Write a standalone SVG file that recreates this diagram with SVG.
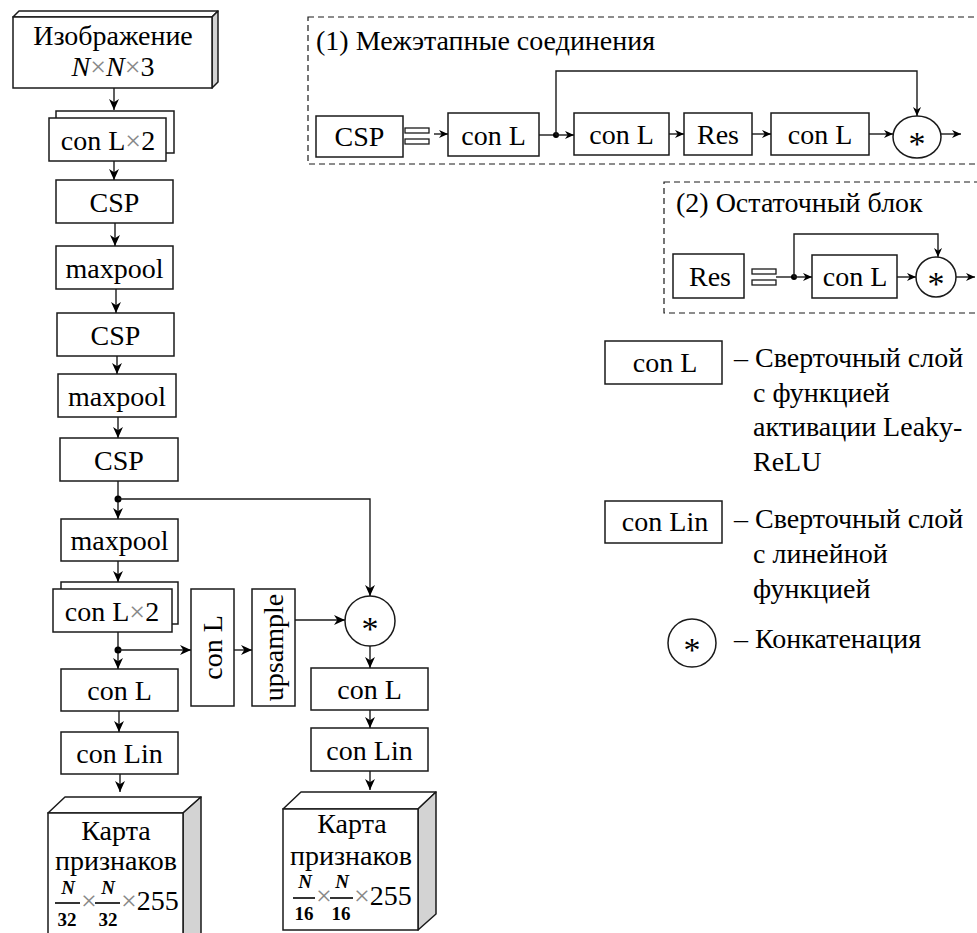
<svg xmlns="http://www.w3.org/2000/svg" width="977" height="933" viewBox="0 0 977 933">
  <style>
    .box { fill: #fff; stroke: #1a1a1a; stroke-width: 1.5; }
    .side { fill: #d3d3d3; stroke: #1a1a1a; stroke-width: 1.5; stroke-linejoin: round; }
    .top { fill: #fff; stroke: #1a1a1a; stroke-width: 1.5; stroke-linejoin: round; }
    .panel { fill: none; stroke: #1a1a1a; stroke-width: 1.2; stroke-dasharray: 6 4; }
    .bar { fill: #fff; stroke: #1a1a1a; stroke-width: 1.3; }
    .t { font-family: "Liberation Serif", serif; font-size: 28px; fill: #000; }
    .c { text-anchor: middle; }
    .ast { font-family: "Liberation Serif", serif; font-size: 34px; text-anchor: middle; fill: #000; }
    .frac { font-family: "Liberation Serif", serif; font-size: 19px; font-weight: bold; text-anchor: middle; fill: #000; }
    .x { fill: #888; }
    .ln { fill: none; stroke: #1a1a1a; stroke-width: 1.4; }
    .arr { marker-end: url(#ah); }
    .arrs { marker-end: url(#ahs); }
    .dot { fill: #000; }
  </style>
  <defs>
    <marker id="ah" viewBox="0 0 10 10" refX="10" refY="5" markerWidth="11" markerHeight="11" markerUnits="userSpaceOnUse" orient="auto">
      <path d="M0,0.5 L10,5 L0,9.5 L3,5 Z" fill="#000"/>
    </marker>
    <marker id="ahs" viewBox="0 0 10 10" refX="10" refY="5" markerWidth="9" markerHeight="9" markerUnits="userSpaceOnUse" orient="auto">
      <path d="M0,0.5 L10,5 L0,9.5 L3,5 Z" fill="#000"/>
    </marker>
  </defs>

  <rect width="977" height="933" fill="#fff"/>

  <!-- ===== main network ===== -->
  <g id="input">
    <polygon class="top" points="13,17 19,11 218,11 212,17"/>
    <polygon class="side" points="212,17 218,11 218,82 212,88"/>
    <rect class="box" x="13" y="17" width="199" height="71"/>
    <text class="t c" x="113" y="45">Изображение</text>
    <text class="t c" x="113" y="76"><tspan font-style="italic">N</tspan><tspan class="x">×</tspan><tspan font-style="italic">N</tspan><tspan class="x">×</tspan>3</text>
  </g>

  <g id="conv-x2-a">
    <rect class="box" x="56" y="111" width="118" height="42"/>
    <rect class="box" x="49" y="118" width="117" height="43"/>
    <text class="t c" x="108" y="150">con L<tspan class="x">×</tspan>2</text>
  </g>

  <g id="csp-1">
    <rect class="box" x="56" y="180" width="117" height="43"/>
    <text class="t c" x="114.5" y="212">CSP</text>
  </g>

  <g id="maxpool-1">
    <rect class="box" x="56" y="246" width="117" height="43"/>
    <text class="t c" x="114.5" y="278">maxpool</text>
  </g>

  <g id="csp-2">
    <rect class="box" x="57" y="313" width="117" height="43"/>
    <text class="t c" x="115.5" y="345">CSP</text>
  </g>

  <g id="maxpool-2">
    <rect class="box" x="58" y="374" width="118" height="43"/>
    <text class="t c" x="117" y="406">maxpool</text>
  </g>

  <g id="csp-3">
    <rect class="box" x="60" y="438" width="118" height="43"/>
    <text class="t c" x="119" y="470">CSP</text>
  </g>

  <g id="maxpool-3">
    <rect class="box" x="61" y="519" width="117" height="42"/>
    <text class="t c" x="119.5" y="550">maxpool</text>
  </g>

  <g id="conv-x2-b">
    <rect class="box" x="61" y="582" width="117" height="42"/>
    <rect class="box" x="53" y="589" width="119" height="43"/>
    <text class="t c" x="112" y="621">con L<tspan class="x">×</tspan>2</text>
  </g>

  <g id="conv-branch">
    <rect class="box" x="191" y="589" width="43" height="117"/>
    <text class="t c" transform="translate(222,647.5) rotate(-90)">con L</text>
  </g>

  <g id="upsample">
    <rect class="box" x="252" y="589" width="43" height="117"/>
    <text class="t c" transform="translate(283,647.5) rotate(-90)">upsample</text>
  </g>

  <g id="concat-main">
    <circle class="box" cx="370" cy="621" r="25"/>
    <text class="ast" x="370" y="640">*</text>
  </g>

  <g id="conv-l-left">
    <rect class="box" x="61" y="669" width="117" height="42"/>
    <text class="t c" x="119.5" y="700">con L</text>
  </g>

  <g id="conv-lin-left">
    <rect class="box" x="61" y="732" width="117" height="42"/>
    <text class="t c" x="119.5" y="763">con Lin</text>
  </g>

  <g id="conv-l-right">
    <rect class="box" x="311" y="668" width="117" height="42"/>
    <text class="t c" x="369.5" y="699">con L</text>
  </g>

  <g id="conv-lin-right">
    <rect class="box" x="311" y="728" width="117" height="43"/>
    <text class="t c" x="369.5" y="760">con Lin</text>
  </g>

  <g id="features-32">
    <polygon class="top" points="48,813 65,797 201,797 183,813"/>
    <polygon class="side" points="183,813 201,797 201,935 183,950"/>
    <rect class="box" x="48" y="813" width="135" height="140"/>
    <text class="t c" x="116" y="840">Карта</text>
    <text class="t c" x="116" y="870">признаков</text>
    <text class="frac" x="68" y="894" font-style="italic">N</text>
    <line x1="55" y1="903" x2="80" y2="903" stroke="#000" stroke-width="1.6"/>
    <text class="frac" x="67" y="926">32</text>
    <text class="t x" x="81" y="910">×</text>
    <text class="frac" x="108" y="894" font-style="italic">N</text>
    <line x1="95" y1="903" x2="120" y2="903" stroke="#000" stroke-width="1.6"/>
    <text class="frac" x="108" y="926">32</text>
    <text class="t" x="121" y="910"><tspan class="x">×</tspan>255</text>
  </g>

  <g id="features-16">
    <polygon class="top" points="283,809 301,792 436,792 418,809"/>
    <polygon class="side" points="418,809 436,792 436,914 418,930"/>
    <rect class="box" x="283" y="809" width="135" height="121"/>
    <text class="t c" x="352" y="833">Карта</text>
    <text class="t c" x="351" y="865">признаков</text>
    <text class="frac" x="305" y="888" font-style="italic">N</text>
    <line x1="293" y1="898" x2="315" y2="898" stroke="#000" stroke-width="1.6"/>
    <text class="frac" x="304" y="920">16</text>
    <text class="t x" x="316" y="905">×</text>
    <text class="frac" x="342" y="888" font-style="italic">N</text>
    <line x1="330" y1="898" x2="353" y2="898" stroke="#000" stroke-width="1.6"/>
    <text class="frac" x="341" y="920">16</text>
    <text class="t" x="354" y="905"><tspan class="x">×</tspan>255</text>
  </g>

  <!-- ===== panel (1): cross-stage connections ===== -->
  <g id="panel-csp">
    <rect class="panel" x="308" y="17" width="680" height="147"/>
    <text class="t" x="316" y="50">(1) Межэтапные соединения</text>
    <rect class="box" x="316" y="116" width="87" height="41"/>
    <text class="t c" x="359.5" y="146">CSP</text>
    <rect class="bar" x="405" y="128" width="24" height="5"/>
    <rect class="bar" x="405" y="139" width="24" height="5"/>
    <rect class="box" x="448" y="113" width="91" height="43"/>
    <text class="t c" x="493.5" y="145">con L</text>
    <rect class="box" x="574" y="113" width="95" height="42"/>
    <text class="t c" x="621.5" y="144">con L</text>
    <rect class="box" x="684" y="113" width="68" height="42"/>
    <text class="t c" x="718" y="144">Res</text>
    <rect class="box" x="771" y="113" width="98" height="42"/>
    <text class="t c" x="820" y="144">con L</text>
    <ellipse class="box" cx="917" cy="137" rx="24" ry="21"/>
    <text class="ast" x="917" y="155">*</text>
  </g>

  <!-- ===== panel (2): residual block ===== -->
  <g id="panel-res">
    <rect class="panel" x="664" y="182" width="330" height="131"/>
    <text class="t" x="676" y="212">(2) Остаточный блок</text>
    <rect class="box" x="673" y="254" width="71" height="44"/>
    <text class="t c" x="710" y="286">Res</text>
    <rect class="bar" x="752" y="269" width="24" height="5"/>
    <rect class="bar" x="752" y="280" width="24" height="5"/>
    <rect class="box" x="812" y="255" width="85" height="43"/>
    <text class="t c" x="855" y="286">con L</text>
    <circle class="box" cx="936" cy="277" r="20"/>
    <text class="ast" x="936" y="295">*</text>
  </g>

  <!-- ===== legend ===== -->
  <g id="legend-conv-l">
    <rect class="box" x="605" y="341" width="117" height="43"/>
    <text class="t c" x="665" y="372">con L</text>
    <text class="t" x="734" y="367">– Сверточный слой</text>
    <text class="t" x="753" y="402">с функцией</text>
    <text class="t" x="753" y="436">активации Leaky-</text>
    <text class="t" x="753" y="471">ReLU</text>
  </g>
  <g id="legend-conv-lin">
    <rect class="box" x="605" y="501" width="117" height="42"/>
    <text class="t c" x="665" y="531">con Lin</text>
    <text class="t" x="734" y="528">– Сверточный слой</text>
    <text class="t" x="753" y="563">с линейной</text>
    <text class="t" x="753" y="598">функцией</text>
  </g>
  <g id="legend-concat">
    <circle class="box" cx="692" cy="643" r="24"/>
    <text class="ast" x="692" y="661" font-size="30">*</text>
    <text class="t" x="734" y="648">– Конкатенация</text>
  </g>

  <!-- ===== connectors ===== -->
  <g id="connectors">
    <line class="ln arr" x1="114" y1="88" x2="114" y2="110"/>
    <line class="ln arr" x1="114" y1="161" x2="114" y2="180"/>
    <line class="ln arr" x1="115" y1="223" x2="115" y2="246"/>
    <line class="ln arr" x1="116" y1="289" x2="116" y2="313"/>
    <line class="ln arr" x1="117" y1="356" x2="117" y2="374"/>
    <line class="ln arr" x1="118" y1="417" x2="118" y2="438"/>
    <line class="ln arr" x1="118" y1="481" x2="118" y2="519"/>
    <circle class="dot" cx="118" cy="499" r="3.5"/>
    <polyline class="ln arr" points="118,499 370,499 370,596"/>
    <line class="ln arr" x1="118" y1="561" x2="118" y2="582"/>
    <line class="ln arr" x1="118" y1="632" x2="118" y2="669"/>
    <circle class="dot" cx="118" cy="650" r="3.5"/>
    <line class="ln arr" x1="118" y1="650" x2="191" y2="650"/>
    <line class="ln arr" x1="234" y1="650" x2="252" y2="650"/>
    <line class="ln arr" x1="295" y1="620" x2="345" y2="620"/>
    <line class="ln arr" x1="370" y1="646" x2="370" y2="668"/>
    <line class="ln arr" x1="119" y1="711" x2="119" y2="732"/>
    <line class="ln arr" x1="120" y1="774" x2="120" y2="792"/>
    <line class="ln arr" x1="370" y1="710" x2="370" y2="728"/>
    <line class="ln arr" x1="370" y1="771" x2="370" y2="790"/>

    <line class="ln arrs" x1="434" y1="134" x2="448" y2="134"/>
    <line class="ln" x1="539" y1="135" x2="556" y2="135"/>
    <circle class="dot" cx="556" cy="135" r="3"/>
    <line class="ln arrs" x1="556" y1="135" x2="574" y2="135"/>
    <polyline class="ln arrs" points="556,135 556,71 917,71 917,116"/>
    <line class="ln arrs" x1="669" y1="134" x2="684" y2="134"/>
    <line class="ln arrs" x1="752" y1="134" x2="771" y2="134"/>
    <line class="ln arrs" x1="869" y1="134" x2="893" y2="134"/>
    <line class="ln arrs" x1="941" y1="134" x2="961" y2="134"/>

    <line class="ln" x1="776" y1="277" x2="794" y2="277"/>
    <circle class="dot" cx="794" cy="277" r="3"/>
    <line class="ln arrs" x1="794" y1="277" x2="812" y2="277"/>
    <polyline class="ln arrs" points="794,277 794,234 938,234 938,257"/>
    <line class="ln arrs" x1="897" y1="277" x2="916" y2="277"/>
    <line class="ln arrs" x1="956" y1="277" x2="975" y2="277"/>
  </g>
</svg>
